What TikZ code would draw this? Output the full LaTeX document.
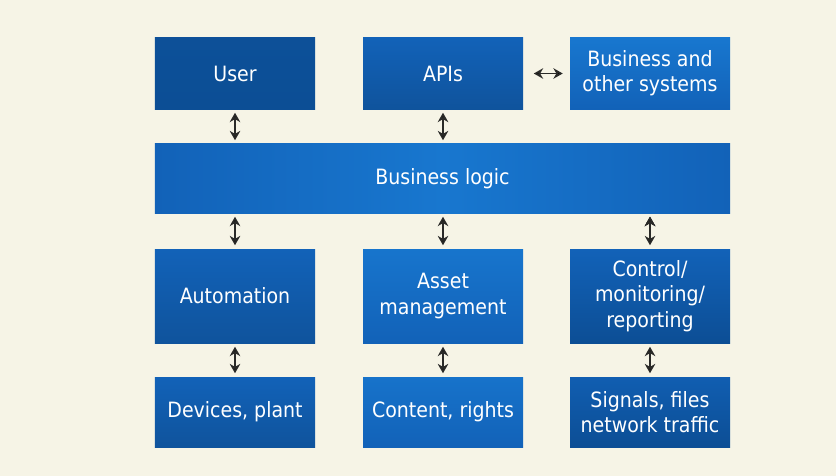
\documentclass[tikz,border=0pt]{standalone}
\usepackage{fontspec}
\setmainfont{DejaVu Sans Condensed}
\usepackage{tikz}
\usetikzlibrary{arrows.meta}

\definecolor{paper}{HTML}{F6F4E6}
\definecolor{bluedark}{HTML}{0C4E95}
\definecolor{bluemid}{HTML}{1262B8}
\definecolor{bluelight}{HTML}{1877CF}
\definecolor{arrowgray}{HTML}{2A2A28}

\begin{document}
\begin{tikzpicture}
	[x=0.03cm,y=-0.03cm,<->,>={Stealth[length=8pt,width=9pt]},
		box/.style={rectangle,minimum width=4.8cm,inner sep=0pt,align=center,
			text=white,font=\fontsize{18}{21.5}\selectfont,
			top color=bluemid,bottom color=bluemid!85!black},
		tallbox/.style={box,minimum height=2.82cm},
		flatbox/.style={box,minimum height=2.13cm},
		link/.style={draw=arrowgray,line width=1.6pt,shorten >=3pt,shorten <=3pt}]

	\fill[paper,-] (0,0) rectangle (836,476);
	\useasboundingbox (0,0) rectangle (836,476);

	% top row
	\node[flatbox,top color=bluedark!90!bluemid,bottom color=bluedark] (user) at (235,73.5) {User};
	\node[flatbox] (apis) at (443,73.5) {APIs};
	\node[flatbox,top color=bluelight,bottom color=bluemid] (other) at (650,73.5) {Business and\\other systems};

	% business logic
	\node[box,minimum width=17.25cm,minimum height=2.07cm,
		left color=bluemid,right color=bluemid,middle color=bluelight] (logic) at (442.5,178.5) {Business logic};

	% middle row
	\node[tallbox] (auto) at (235,296) {Automation};
	\node[tallbox,top color=bluelight!90!bluemid,bottom color=bluemid] (asset) at (443,296) {Asset\\management};
	\node[tallbox,top color=bluemid,bottom color=bluedark] (control) at (650,296) {Control/\\monitoring/\\reporting};

	% bottom row
	\node[flatbox,minimum height=2.1cm] (devices) at (235,412) {Devices, plant};
	\node[flatbox,minimum height=2.1cm,top color=bluelight!80!bluemid,bottom color=bluemid] (content) at (443,412) {Content, rights};
	\node[flatbox,minimum height=2.1cm,top color=bluemid!80!bluedark,bottom color=bluedark] (signals) at (650,412) {Signals, files\\network traffic};

	\path[link]
	(apis) edge[shorten <=9pt,shorten >=6pt] (other)
	(user.south -| auto) edge (logic.north -| auto)
	(apis) edge (logic.north -| apis)
	(logic.south -| auto) edge (auto)
	(logic.south -| asset) edge (asset)
	(logic.south -| control) edge (control)
	(auto) edge (devices)
	(asset) edge (content)
	(control) edge (signals)
	;
\end{tikzpicture}
\end{document}
